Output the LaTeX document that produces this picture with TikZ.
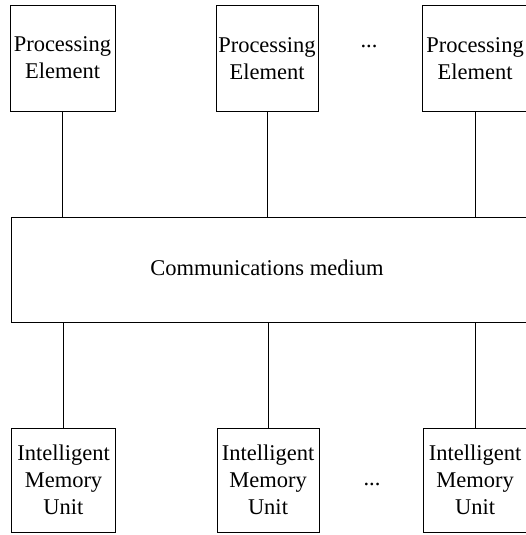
\documentclass[tikz,border=0pt]{standalone}
\usepackage{fontspec}
\setmainfont{Liberation Serif}
\begin{document}
\begin{tikzpicture}[x=1pt,y=-1pt,
  box/.style={draw, line width=0.9pt, inner sep=0pt, align=center,
    font=\fontsize{22.5}{27}\selectfont},
  pebox/.style={box, minimum width=105pt, minimum height=106pt},
  imbox/.style={box, minimum width=104pt, minimum height=104pt},
  link/.style={line width=0.9pt},
  lbl/.style={inner sep=0pt, font=\fontsize{22.5}{27}\selectfont}]
\useasboundingbox (0,0) rectangle (526,535);
\clip (0,0) rectangle (526,535);
% Processing elements
\node[pebox] (pe1) at (62.5,58) {Processing\\Element};
\node[pebox, minimum width=102pt] (pe2) at (267,58.5) {Processing\\Element};
\node[pebox] (pe3) at (475,58.5) {Processing\\Element};
\node[lbl, anchor=base] (dots1) at (369,48) {...};
% Communications medium
\node[draw, line width=0.9pt, minimum width=530pt, minimum height=105pt,
  inner sep=0pt, anchor=north west] (cm) at (11,217) {};
\node[lbl] (cmt) at (267,268) {Communications medium};
% Intelligent memory units
\node[imbox] (im1) at (63.5,480) {Intelligent\\Memory\\Unit};
\node[imbox, minimum width=102pt] (im2) at (268,480) {Intelligent\\Memory\\Unit};
\node[imbox] (im3) at (475,480) {Intelligent\\Memory\\Unit};
\node[lbl, anchor=base] (dots2) at (372,485) {...};
% connectors
\draw[link] (pe1.south) -- (pe1.south |- cm.north);
\draw[link] (pe2.south) -- (pe2.south |- cm.north);
\draw[link] (pe3.south) -- (pe3.south |- cm.north);
\draw[link] (im1.north |- cm.south) -- (im1.north);
\draw[link] (im2.north |- cm.south) -- (im2.north);
\draw[link] (im3.north |- cm.south) -- (im3.north);
\end{tikzpicture}
\end{document}
